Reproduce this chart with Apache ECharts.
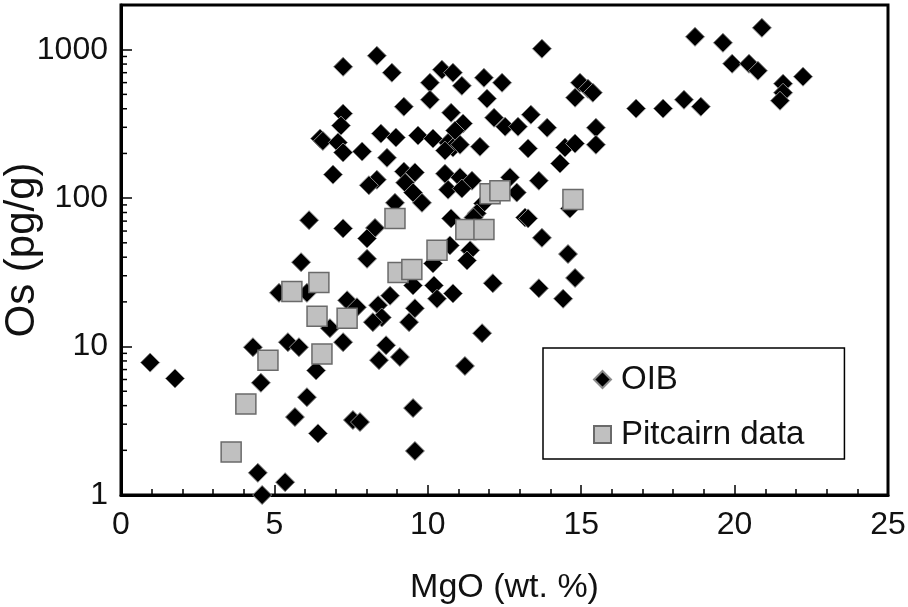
<!DOCTYPE html>
<html>
<head>
<meta charset="utf-8">
<script src="https://cdn.jsdelivr.net/npm/echarts@6/dist/echarts.min.js"></script>
<style>
  html, body { margin: 0; padding: 0; background: #fff; }
  #chart { width: 908px; height: 607px; }
</style>
</head>
<body>
<div id="chart"></div>
<script>
// MgO (wt. %) and Os (pg/g) for ocean-island basalts
const oibMgO = [0.95, 1.76, 4.30, 4.56, 4.46, 4.60, 5.35, 5.15, 5.44, 5.67, 5.80, 5.87, 6.06, 6.06, 6.13, 6.36, 6.42, 6.81, 7.24, 7.37,
  7.69, 7.56, 7.79, 7.24, 7.24, 7.17, 6.49, 6.58, 7.07, 7.24, 6.91, 7.24, 7.86, 8.34, 8.83, 10.46, 10.82, 11.11, 10.07, 10.07,
  11.83, 12.42, 11.93, 13.72, 9.22, 10.76, 11.15, 10.89, 12.16, 12.52, 12.94, 13.36, 13.89, 8.47, 8.96, 9.68, 10.17, 10.66, 10.82, 10.56,
  11.05, 8.67, 11.70, 13.27, 14.47, 14.80, 14.31, 8.34, 8.08, 9.22, 9.58, 9.26, 9.52, 9.81, 10.56, 11.05, 11.44, 10.66, 11.11, 12.68,
  12.90, 13.62, 11.80, 11.60, 13.17, 13.27, 8.93, 10.76, 8.28, 8.02, 11.49, 13.72, 10.72, 11.38, 14.57, 8.02, 11.28, 10.17, 14.80, 13.62,
  14.41, 12.12, 11.77, 11.21, 9.52, 10.20, 10.30, 10.82, 9.58, 9.39, 8.77, 8.38, 8.50, 8.21, 8.64, 8.41, 9.09, 9.52, 9.58, 18.71,
  19.62, 20.89, 19.92, 20.47, 20.76, 22.23, 21.58, 21.58, 21.48, 16.79, 17.67, 18.35, 18.90, 14.96, 15.22, 15.38, 14.80, 15.48, 15.48, 14.63];
const oibOs = [7.8, 6.1, 9.9, 5.7, 1.41, 1.0, 1.22, 23, 10.7, 3.35, 9.9, 37, 23, 4.56, 71, 6.9, 2.6, 13.3, 10.7, 20.5,
  18.4, 3.2, 3.1, 767, 371, 308, 252, 243, 237, 203, 144, 62.5, 206, 910, 700, 733, 700, 571, 599, 460,
  647, 599, 468, 1015, 413, 376, 318, 285, 348, 303, 303, 365, 298, 272, 256, 264, 252, 236, 219, 209,
  229, 187, 222, 216, 219, 233, 171, 133, 122, 151, 149, 127, 109, 93, 146, 138, 131, 114, 116, 138,
  109, 131, 92, 79, 74, 73, 93, 73, 63, 53.5, 74, 54, 48, 44.5, 42, 39, 38, 36.3, 29, 24.7,
  21, 26.7, 12.3, 7.4, 25.8, 25.8, 21, 22.8, 18.1, 14.6, 22, 19, 15.7, 14.6, 10.2, 8.1, 8.5, 3.85, 1.98, 1221,
  1113, 1403, 804, 804, 721, 658, 590, 513, 453, 401, 401, 460, 413, 599, 546, 513, 475, 298, 229, 85];

// Pitcairn samples
const pitMgO = [3.59, 4.07, 4.79, 5.57, 6.45, 6.39, 6.55, 7.37, 8.93, 9.03, 9.48, 10.30, 11.24, 11.83, 12.03, 12.35, 14.73];
const pitOs = [1.95, 4.1, 8.1, 23.5, 27, 16, 8.9, 15.5, 73, 31.6, 33, 44.5, 61.5, 61.5, 107, 112, 98];

// Axis settings
const xTicks = { min: 0, max: 25, step: 5 };
const yRange = { min: 1, max: 2000 };
// Log minor tick positions (2..9 within each decade)
const yMinorTicks = [];
for (let d = 1; d <= 100; d *= 10) {
  for (let m = 2; m <= 9; m++) yMinorTicks.push(m * d);
}

const FONT = '"Liberation Sans", Arial, sans-serif';
const zip = (a, b) => a.map((v, i) => [v, b[i]]);

const chart = echarts.init(document.getElementById('chart'), null, { renderer: 'canvas' });
chart.setOption({
  animation: false,
  backgroundColor: '#fff',
  grid: {
    left: 121, right: 20, top: 5, bottom: 112,
    containLabel: false, outerBoundsMode: 'none',
    show: true, borderColor: '#000', borderWidth: 3, backgroundColor: 'transparent'
  },
  xAxis: {
    type: 'value', min: xTicks.min, max: xTicks.max, interval: xTicks.step,
    name: 'MgO (wt. %)', nameLocation: 'middle', nameGap: 76, nameMoveOverlap: false,
    nameTextStyle: { fontFamily: FONT, fontSize: 34, color: '#111' },
    axisLine: { show: true, lineStyle: { color: '#000', width: 3 } },
    axisTick: { show: true, inside: true, length: 10, lineStyle: { color: '#000', width: 1.5 } },
    minorTick: { show: true, splitNumber: 5, length: 6, lineStyle: { color: '#000', width: 1.5 } },
    splitLine: { show: false },
    axisLabel: { fontFamily: FONT, fontSize: 32, color: '#111', margin: 14 }
  },
  yAxis: {
    type: 'log', logBase: 10, min: yRange.min, max: yRange.max,
    name: 'Os (pg/g)', nameLocation: 'middle', nameGap: 78, nameMoveOverlap: false,
    nameTextStyle: { fontFamily: FONT, fontSize: 42, color: '#111' },
    axisLine: { show: true, lineStyle: { color: '#000', width: 3 } },
    axisTick: { show: true, inside: true, length: 11, lineStyle: { color: '#000', width: 1.5 } },
    splitLine: { show: false },
    axisLabel: {
      fontFamily: FONT, fontSize: 32, color: '#111', margin: 13, showMaxLabel: false,
      formatter: v => String(Math.round(v))
    }
  },
  legend: {
    orient: 'vertical', left: 543, top: 348,
    padding: [15, 40, 8, 50], itemGap: 22,
    itemWidth: 17, itemHeight: 17,
    borderColor: '#000', borderWidth: 1.5, backgroundColor: '#fff',
    textStyle: { fontFamily: FONT, fontSize: 33, color: '#111', padding: [0, 0, 0, 5] },
    data: [{ name: 'OIB', icon: 'diamond' }, { name: 'Pitcairn data', icon: 'rect' }]
  },
  series: [
    {
      name: 'yMinorTicks', type: 'custom', silent: true, z: 5,
      data: yMinorTicks.map(v => [xTicks.min, v]),
      renderItem: (params, api) => {
        const p = api.coord([api.value(0), api.value(1)]);
        return {
          type: 'line',
          shape: { x1: p[0], y1: p[1], x2: p[0] + 6, y2: p[1] },
          style: { stroke: '#000', lineWidth: 1.5 }
        };
      }
    },
    {
      name: 'OIB', type: 'scatter', symbol: 'diamond', symbolSize: 19,
      data: zip(oibMgO, oibOs),
      itemStyle: { color: '#000', borderColor: '#8a8a8a', borderWidth: 1, opacity: 1 },
      z: 2
    },
    {
      name: 'Pitcairn data', type: 'scatter', symbol: 'rect', symbolSize: 20,
      data: zip(pitMgO, pitOs),
      itemStyle: { color: '#c0c0c0', borderColor: '#6a6a6a', borderWidth: 1.5, opacity: 1 },
      z: 3
    }
  ]
});
</script>
</body>
</html>
